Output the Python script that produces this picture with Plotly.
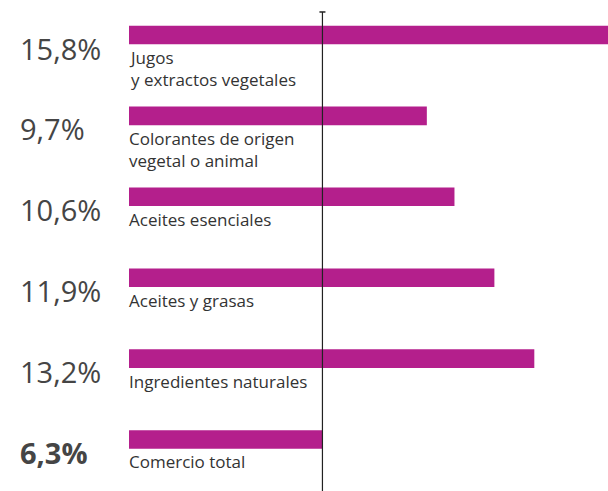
import plotly.graph_objects as go

categories = ["Jugos<br>y extractos vegetales",
              "Colorantes de origen<br>vegetal o animal",
              "Aceites esenciales",
              "Aceites y grasas",
              "Ingredientes naturales",
              "Comercio total"]
values = [15.8, 9.7, 10.6, 11.9, 13.2, 6.3]
value_labels = ["15,8%", "9,7%", "10,6%", "11,9%", "13,2%", "6,3%"]
bold_flags = [False, False, False, False, False, True]
reference_value = 6.3

BAR = "#b41f8c"
ids = list(range(len(categories)))

fig = go.Figure(go.Bar(
    x=values, y=ids, orientation="h",
    marker=dict(color=BAR, line=dict(width=0)),
    hoverinfo="skip",
))

annotations = []
for i, (cat, lab, b) in enumerate(zip(categories, value_labels, bold_flags)):
    annotations.append(dict(
        x=0, y=i, xref="x", yref="y", xanchor="left", yanchor="top",
        text=cat, showarrow=False, align="left", yshift=-9, xshift=-2,
        font=dict(family="Open Sans", size=17, color="#333333"),
    ))
    annotations.append(dict(
        x=0, y=i, xref="paper", yref="y", xanchor="left", yanchor="middle",
        text=(f"<b>{lab}</b>" if b else lab), showarrow=False, xshift=-111, yshift=-13,
        font=dict(family="Open Sans", size=29, color="#454545"),
    ))

fig.update_layout(
    width=608, height=491,
    margin=dict(l=129, r=0, t=0, b=0),
    paper_bgcolor="white", plot_bgcolor="white",
    showlegend=False,
    bargap=0.77,
    xaxis=dict(range=[0, 15.6], visible=False, fixedrange=True),
    yaxis=dict(range=[5.637, -0.433], visible=False, fixedrange=True),
    annotations=annotations,
    shapes=[
        dict(type="line", xref="x", yref="paper", x0=reference_value, x1=reference_value,
             y0=0, y1=0.9756, line=dict(color="#222222", width=1.2), layer="above"),
        dict(type="line", xref="x", yref="paper", xsizemode="pixel", xanchor=reference_value,
             x0=-3, x1=3, y0=0.9756, y1=0.9756, line=dict(color="#222222", width=1.5)),
    ],
)

fig.write_html("out.html", config={"displayModeBar": False},
               post_script="document.body.style.margin='0';document.body.style.overflow='hidden';")
